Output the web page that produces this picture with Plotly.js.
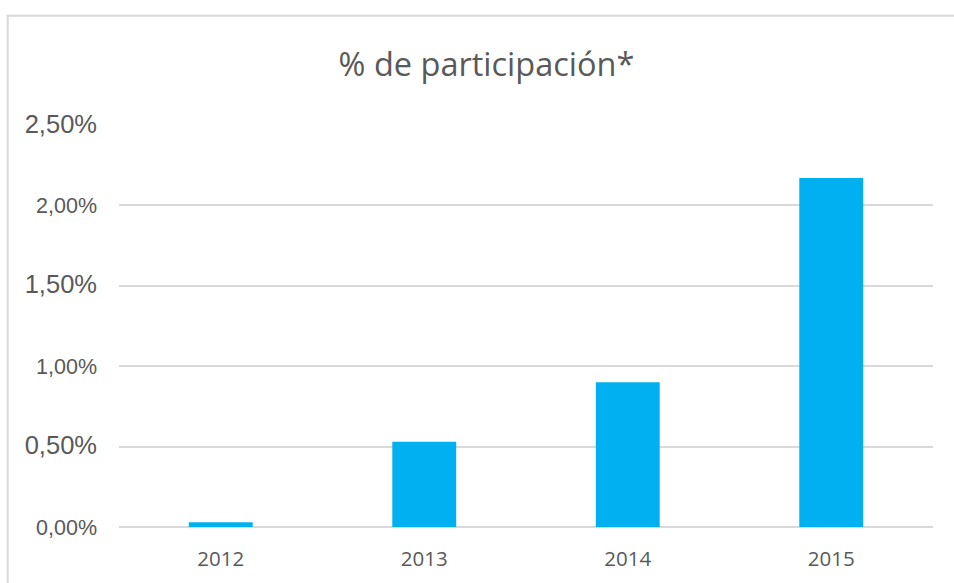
<!DOCTYPE html>
<html>
<head>
<meta charset="utf-8">
<script src="https://cdn.plot.ly/plotly-3.0.1.min.js"></script>
<style>
  html, body { margin: 0; padding: 0; background: #ffffff; }
  #chart { width: 954px; height: 583px; }
</style>
</head>
<body>
<div id="chart"></div>
<script>
// ---- data ----
const years = ['2012', '2013', '2014', '2015'];
const participation = [0.03, 0.53, 0.90, 2.17];
const yTickVals = [0, 0.5, 1.0, 1.5, 2.0, 2.5];
const yTickLabels = ['0,00%', '0,50%', '1,00%', '1,50%', '2,00%', '2,50%'];
const chartTitle = '% de participación*';

// ---- styles (kept apart from data) ----
const yTickSizes = [21.5, 25.5, 21.5, 25.5, 21.5, 25.5];
const grey = '#595959';
const gridCol = '#D9D9D9';

const W = 954, H = 583;
const m = { l: 119, r: 21, t: 125, b: 56 };
const pw = W - m.l - m.r, ph = H - m.t - m.b;
const px2x = px => (px - m.l) / pw;
const py2y = py => (H - m.b - py) / ph;

const yTickText = yTickLabels.map((t, i) =>
  '<span style="font-size:' + yTickSizes[i] + 'px">' + t + '</span>');

const trace = {
  type: 'bar',
  x: years,
  y: participation,
  marker: { color: '#00B0F0', line: { width: 0 } },
  hoverinfo: 'x+y'
};

const layout = {
  width: W, height: H,
  margin: m,
  paper_bgcolor: '#ffffff',
  plot_bgcolor: '#ffffff',
  showlegend: false,
  bargap: 0.686,
  title: {
    text: chartTitle,
    font: { family: 'Open Sans, sans-serif', size: 32.5, color: grey },
    x: 486.5 / W, xref: 'container', xanchor: 'center',
    y: 1 - 65 / H, yref: 'container', yanchor: 'middle'
  },
  xaxis: {
    type: 'category',
    range: [-0.5, 3.5],
    showgrid: false,
    zeroline: false,
    showline: false,
    ticks: '',
    ticklabelstandoff: 17,
    tickfont: { family: 'Open Sans, sans-serif', size: 20.5, color: grey }
  },
  yaxis: {
    range: [0, 2.5],
    tickvals: yTickVals,
    ticktext: yTickText,
    showgrid: true,
    gridcolor: gridCol,
    gridwidth: 2,
    zeroline: true,
    zerolinecolor: gridCol,
    zerolinewidth: 2,
    showline: false,
    ticks: '',
    ticklabelstandoff: 21,
    tickfont: { family: 'Liberation Sans, Arial, sans-serif', size: 21.5, color: grey }
  },
  shapes: [{
    type: 'rect', xref: 'paper', yref: 'paper', layer: 'below',
    x0: px2x(7.7), x1: px2x(970), y0: py2y(600), y1: py2y(15.7),
    line: { color: gridCol, width: 2 }, fillcolor: 'rgba(0,0,0,0)'
  }]
};

Plotly.newPlot('chart', [trace], layout, { displayModeBar: false, staticPlot: true });
</script>
</body>
</html>
